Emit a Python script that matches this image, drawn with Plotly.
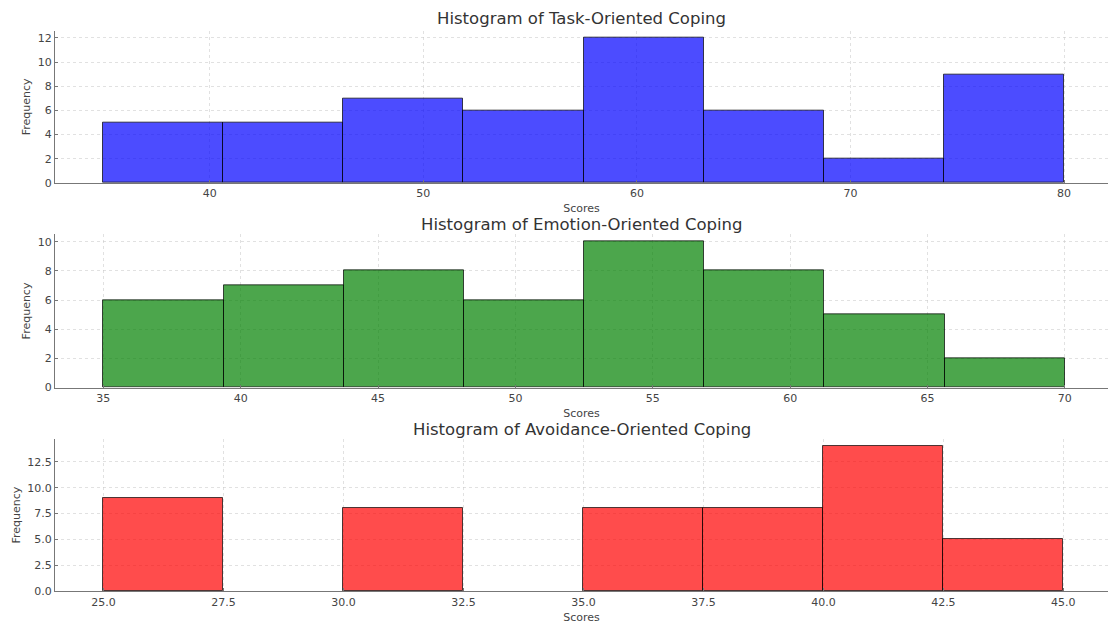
import numpy as np
import plotly.graph_objects as go

# Histogram bin counts and score ranges for each coping scale
task_counts = [5, 5, 7, 6, 12, 6, 2, 9]
task_range = (35, 80)

emotion_counts = [6, 7, 8, 6, 10, 8, 5, 2]
emotion_range = (35, 70)

avoidance_counts = [9, 0, 8, 0, 8, 8, 14, 5]
avoidance_range = (25, 45)

titles = [
    "Histogram of Task-Oriented Coping",
    "Histogram of Emotion-Oriented Coping",
    "Histogram of Avoidance-Oriented Coping",
]
colors = ["rgba(0,0,255,0.7)", "rgba(0,128,0,0.7)", "rgba(255,0,0,0.7)"]

x_ranges = [[32.75, 82.06], [33.24, 71.57], [23.99, 45.93]]
y_ranges = [[0, 12.6], [0, 10.5], [0, 14.7]]
x_ticks = [[40, 50, 60, 70, 80], [35, 40, 45, 50, 55, 60, 65, 70],
           [25, 27.5, 30, 32.5, 35, 37.5, 40, 42.5, 45]]
y_ticks = [[0, 2, 4, 6, 8, 10, 12], [0, 2, 4, 6, 8, 10],
           [0, 2.5, 5, 7.5, 10, 12.5]]
x_fmt = ["d", "d", ".1f"]
y_fmt = ["d", "d", ".1f"]

W, H = 1108, 624
# plot-area pixel bounds (top, bottom) and title centre for each panel
panel_px = [(31, 185), (237, 392), (444, 598)]
title_px = [19, 227, 434]

FONT = "DejaVu Sans"
TXT = "#444444"
AX = "#777777"

fig = go.Figure()
series = [(task_counts, task_range), (emotion_counts, emotion_range),
          (avoidance_counts, avoidance_range)]

for i, (counts, (lo, hi)) in enumerate(series):
    n = len(counts)
    edges = np.linspace(lo, hi, n + 1)
    centers = (edges[:-1] + edges[1:]) / 2
    widths = np.diff(edges)
    # empty bins get no outline so nothing is drawn over the axis line
    line_w = [1 if c > 0 else 0 for c in counts]
    suffix = "" if i == 0 else str(i + 1)
    fig.add_trace(go.Bar(
        x=centers, y=counts, width=widths,
        marker=dict(color=colors[i], line=dict(color="rgba(0,0,0,0.7)", width=line_w)),
        xaxis="x" + suffix, yaxis="y" + suffix, showlegend=False,
    ))
    top, bot = panel_px[i]
    dom = [1 - bot / H, 1 - top / H]
    axis_common = dict(
        showline=True, linecolor=AX, linewidth=1.2, mirror=False,
        showgrid=True, gridcolor="rgba(200,200,200,0.55)", griddash="dot", gridwidth=1,
        zeroline=False, ticks="inside", ticklen=3, tickcolor=AX,
        tickfont=dict(family=FONT, size=11, color=TXT),
    )
    fig.update_layout(**{
        "xaxis" + suffix: dict(
            axis_common, range=x_ranges[i], tickvals=x_ticks[i], tickformat=x_fmt[i],
            anchor="y" + suffix, domain=[0, 1],
            title=dict(text="Scores", font=dict(family=FONT, size=11, color=TXT), standoff=5),
        ),
        "yaxis" + suffix: dict(
            axis_common, range=y_ranges[i], tickvals=y_ticks[i], tickformat=y_fmt[i],
            anchor="x" + suffix, domain=dom,
            title=dict(text="Frequency", font=dict(family=FONT, size=11, color=TXT), standoff=4),
        ),
    })
    fig.add_annotation(
        text=titles[i], xref="paper", yref="paper", x=0.5, y=1 - title_px[i] / H,
        yanchor="middle", showarrow=False,
        font=dict(family=FONT, size=16.5, color="#333333"),
    )

fig.update_layout(
    width=W, height=H, bargap=0,
    margin=dict(l=55, r=0, t=0, b=0),
    plot_bgcolor="white", paper_bgcolor="white",
)

fig.write_html("out.html")
